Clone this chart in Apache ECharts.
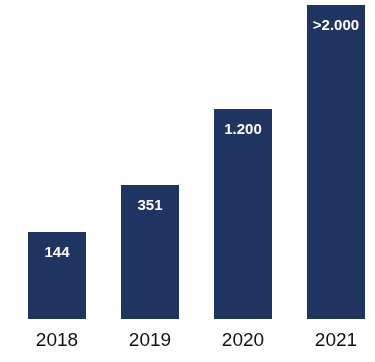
<!DOCTYPE html>
<html><head><meta charset="utf-8">
<script src="https://cdn.jsdelivr.net/npm/echarts@6/dist/echarts.min.js"></script>
<style>html,body{margin:0;padding:0;background:#fff;overflow:hidden}#c{width:383px;height:362px}</style>
</head><body><div id="c"></div>
<script>
const categories = ["2018", "2019", "2020", "2021"];
const barHeights = [87, 134, 210, 314];
const valueLabels = ["144", "351", "1.200", ">2.000"];

const chart = echarts.init(document.getElementById('c'));
chart.setOption({
  animation: false,
  grid: { left: 10.5, top: 5, right: 0.5, bottom: 43 },
  xAxis: {
    type: 'category', data: categories,
    axisLine: { show: false }, axisTick: { show: false },
    axisLabel: { fontFamily: 'Liberation Sans', fontSize: 19, color: '#111', margin: 12 }
  },
  yAxis: { type: 'value', min: 0, max: 314, show: false, splitLine: { show: false } },
  series: [{
    type: 'bar', data: barHeights, barWidth: 58,
    itemStyle: { color: '#1f3461' },
    label: {
      show: true, position: 'insideTop', distance: 13,
      fontFamily: 'Liberation Sans', fontWeight: 'bold', fontSize: 15, color: '#fff',
      formatter: p => valueLabels[p.dataIndex]
    }
  }]
});
</script></body></html>
